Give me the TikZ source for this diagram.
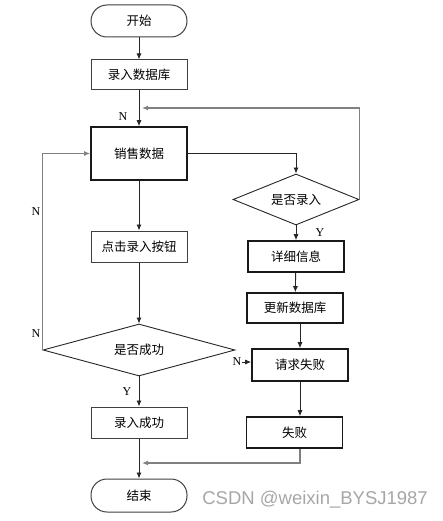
\documentclass[tikz,border=0pt]{standalone}
\usepackage{fontspec}
\usetikzlibrary{arrows.meta,shapes.geometric}
\newfontfamily\cjk{Noto Sans CJK SC}
\newfontfamily\lbl{Liberation Serif}
\newfontfamily\wmk{Liberation Sans}
\tikzset{box/.style={draw=black!75,fill=white,line width=1pt,minimum width=96pt,minimum height=31pt,inner sep=0pt,font=\cjk\fontsize{12.5}{14}\selectfont},
  term/.style={box,rounded corners=16pt,minimum height=32pt},
  bold/.style={box,draw=black!90,line width=1.6pt},
  ask/.style={diamond,draw=black!85,fill=white,line width=.9pt,aspect=3.6,inner sep=0pt,font=\cjk\fontsize{12.5}{14}\selectfont},
  arr/.style={-{Latex[length=6pt,width=5pt]},draw=black!85,line width=.9pt},
  back/.style={arr,draw=black!50,line width=1.2pt},
  yn/.style={font=\lbl\fontsize{12}{14}\selectfont,inner sep=0pt}}

\begin{document}
\begin{tikzpicture}[x=1pt,y=-1pt]
\useasboundingbox (0,0) rectangle (442,521);

\node[term] (start) at (139,21) {开始};
\node[box,minimum height=30pt] (db) at (139,75) {录入数据库};
\node[bold,minimum height=53pt] (sale) at (139,153.5) {销售数据};
\node[box] (click) at (139,246.5) {点击录入按钮};
\node[ask,minimum width=192pt,minimum height=52pt] (okq) at (139,350) {是否成功};
\node[box] (ok) at (139,422.5) {录入成功};
\node[term,minimum height=33pt] (end) at (139,495.5) {结束};
\node[ask,minimum width=126pt,minimum height=51pt] (inq) at (296,199.5) {是否录入};
\node[bold] (detail) at (296,256.5) {详细信息};
\node[bold,minimum height=30pt] (upd) at (295,308) {更新数据库};
\node[bold,minimum height=32pt] (fail) at (300,365) {请求失败};
\node[bold] (lost) at (294.5,432.5) {失败};
\coordinate (top) at (142,108);
\coordinate (low) at (142,463);

\node[yn] (n1) at (123,117) {N};
\node[yn] (n2) at (36,212) {N};
\node[yn] (n3) at (36,334) {N};
\node[yn] (n4) at (237,362) {N};
\node[yn] (y1) at (127,392) {Y};
\node[yn] (y2) at (320,233) {Y};

\draw[arr] (start)--(db); \draw[arr] (db)--(sale); \draw[arr] (sale)--(click); \draw[arr] (click)--(okq); \draw[arr] (okq)--(ok); \draw[arr] (ok)--(end);
\draw[arr] (sale.east)-|(inq.north);
\draw[back] (inq.east)|-(top);
\draw[arr] (inq)--(detail); \draw[arr] (detail)--(upd);
\draw[arr] (fail.north|-upd.south)--(fail.north);
\draw[arr] (fail.south)--(fail.south|-lost.north);
\draw[back] (fail.south|-lost.south)|-(low);
\draw[back] (okq.west)|-(sale.west);
\draw[arr] (n4.east)--(n4.east-|fail.west);

\node[text=black!35,font=\wmk\fontsize{18.5}{20}\selectfont,anchor=east,inner sep=0pt] (mark) at (428,500) {CSDN @weixin\_BYSJ1987};
\end{tikzpicture}
\end{document}
